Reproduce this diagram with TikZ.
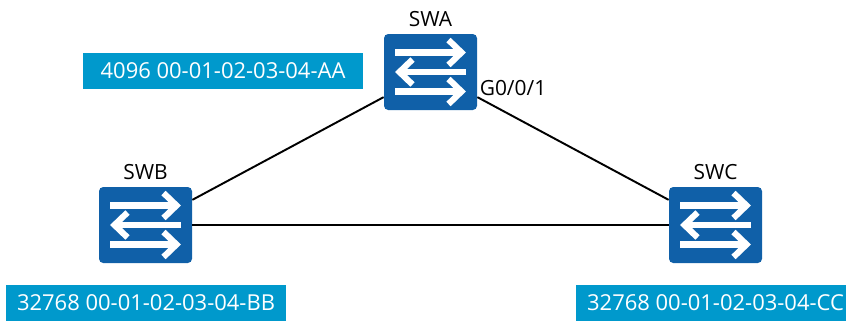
\documentclass[tikz,border=0pt]{standalone}
\usepackage{fontspec}
\setmainfont{Open Sans}
\usepackage{xcolor}
\definecolor{swblue}{HTML}{1060A8}
\definecolor{tagblue}{HTML}{0099CC}
\tikzset{
  sw/.style={draw=none, fill=swblue, rounded corners=2.4pt, minimum width=1.86cm, minimum height=1.52cm, inner sep=0pt},
  swarrow/.style={draw=white, line width=3.5pt},
  link/.style={draw=black, line width=1.1pt},
  tag/.style={fill=tagblue, text=white, font=\fontsize{12.5}{14}\selectfont, inner sep=0pt, minimum width=5.6cm, minimum height=0.72cm},
  lab/.style={text=black, font=\fontsize{11.9}{14}\selectfont, inner sep=0pt},
  swicon/.pic={
    \foreach \y in {0.39,-0.39} {
      \draw[swarrow] (-0.71,\y) -- (0.62,\y);
      \draw[swarrow] (0.36,\y+0.25) -- (0.62,\y) -- (0.36,\y-0.25);
    }
    \draw[swarrow] (0.71,0) -- (-0.62,0);
    \draw[swarrow] (-0.36,0.25) -- (-0.62,0) -- (-0.36,-0.25);
  },
}
\begin{document}
\begin{tikzpicture}
  \useasboundingbox (0,0) rectangle (16.92,6.4);
  \node[sw,label={[lab,yshift=4pt]above:SWA}] (SWA) at (8.61,4.96) {};
  \node[sw,label={[lab,yshift=4pt]above:SWB}] (SWB) at (2.91,1.90) {};
  \node[sw,label={[lab,yshift=4pt]above:SWC}] (SWC) at (14.31,1.90) {};
  \foreach \X in {SWA,SWB,SWC}
    \pic at (\X) {swicon};
  \draw[link] (SWA) -- (SWB);
  \draw[link] (SWA) -- (SWC);
  \draw[link] (SWB) -- (SWC);
  \node[lab] (port) at (10.26,4.64) {G0/0/1};
  \node[tag] (tagA) at (4.46,4.98) {4096 00-01-02-03-04-AA};
  \node[tag] (tagB) at (2.92,0.35) {32768 00-01-02-03-04-BB};
  \node[tag] (tagC) at (14.31,0.35) {32768 00-01-02-03-04-CC};
\end{tikzpicture}
\end{document}
